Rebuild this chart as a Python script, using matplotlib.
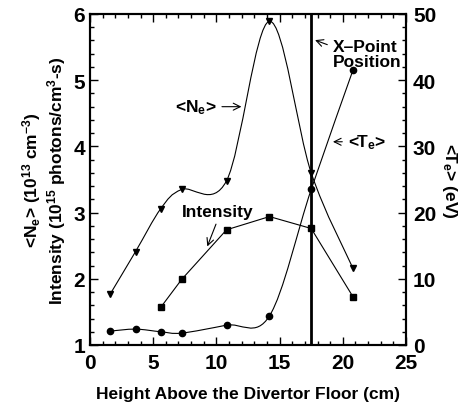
import matplotlib
matplotlib.use("Agg")
import matplotlib.pyplot as plt
import numpy as np
from matplotlib.path import Path
from matplotlib.patches import PathPatch
from matplotlib.ticker import MultipleLocator

plt.rcParams["font.family"] = ["Liberation Sans", "DejaVu Sans"]
plt.rcParams["font.weight"] = "bold"
plt.rcParams["mathtext.default"] = "regular"

# data
height = [1.6, 3.6, 5.6, 7.25, 10.8, 14.2, 17.5, 20.8]
ne = [1.77, 2.41, 3.06, 3.35, 3.48, 5.89, 3.60, 2.16]
int_height = [5.6, 7.25, 10.8, 14.2, 17.5, 20.8]
intensity = [1.57, 1.99, 2.74, 2.94, 2.76, 1.73]
te = [2.1, 2.4, 2.0, 1.8, 3.0, 4.4, 23.5, 41.5]
xpoint = 17.5


def smooth_path(x, y):
    # Catmull-Rom through the points, drawn as bezier segments
    pts = np.column_stack([x, y])
    verts = [pts[0]]
    codes = [Path.MOVETO]
    n = len(pts)
    for i in range(n - 1):
        p0 = pts[i - 1] if i > 0 else pts[i]
        p1, p2 = pts[i], pts[i + 1]
        p3 = pts[i + 2] if i + 2 < n else pts[i + 1]
        c1 = p1 + (p2 - p0) / 6
        c2 = p2 - (p3 - p1) / 6
        verts += [c1, c2, p2]
        codes += [Path.CURVE4] * 3
    return Path(verts, codes)


fig = plt.figure(figsize=(4.75, 4.10), dpi=100)
ax = fig.add_axes([90 / 475, 64 / 410, 316 / 475, 331 / 410])
ax2 = ax.twinx()

ax.set_xlim(0, 25)
ax.set_ylim(1, 6)
ax2.set_ylim(0, 50)

ax.add_patch(PathPatch(smooth_path(height, ne), fill=False, lw=0.8, color="black"))
ax.plot(height, ne, ls="none", marker="v", ms=4, color="black")
ax.plot(int_height, intensity, "-s", lw=0.8, ms=5, color="black")

ax2.add_patch(PathPatch(smooth_path(height, te), fill=False, lw=0.8, color="black"))
ax2.plot(height, te, ls="none", marker="o", ms=4.5, color="black")

ax.axvline(xpoint, color="black", lw=2)

for a in (ax, ax2):
    for s in a.spines.values():
        s.set_linewidth(1.5)
ax.xaxis.set_major_locator(MultipleLocator(5))
ax.xaxis.set_minor_locator(MultipleLocator(1))
ax.yaxis.set_major_locator(MultipleLocator(1))
ax.yaxis.set_minor_locator(MultipleLocator(0.2))
ax2.yaxis.set_major_locator(MultipleLocator(10))
ax2.yaxis.set_minor_locator(MultipleLocator(2))
ax.tick_params(which="both", direction="in", top=True, labelsize=15, width=1)
ax.tick_params(axis="x", pad=6)
ax.tick_params(which="major", length=6)
ax.tick_params(which="minor", length=3)
ax2.tick_params(which="both", direction="in", labelsize=15, width=1, pad=5)
ax2.tick_params(which="major", length=6)
ax2.tick_params(which="minor", length=3)

ax.set_xlabel("Height Above the Divertor Floor (cm)", fontsize=12.5, fontweight="bold", labelpad=10)
ax.set_ylabel("<N$_e$> (10$^{13}$ cm$^{-3}$)\nIntensity (10$^{15}$ photons/cm$^{3}$-s)",
              fontsize=12.5, fontweight="bold", labelpad=4, linespacing=1.1)
ax2.set_ylabel("<T$_e$> (eV)", fontsize=12.5, fontweight="bold", rotation=270, labelpad=16)

arrow = dict(arrowstyle="->", lw=0.8, color="black")
ax.annotate("<N$_e$>", xy=(12.2, 4.6), xytext=(10.0, 4.6), fontsize=12.5, fontweight="bold",
            ha="right", va="center", arrowprops=arrow)
ax.annotate("X\u2013Point\nPosition", xy=(17.6, 5.62), xytext=(19.2, 5.62), fontsize=12.5,
            fontweight="bold", ha="left", va="top", linespacing=1.0,
            arrowprops=dict(arrowstyle="->", lw=0.8, color="black", relpos=(0, 0.75)))
ax.annotate("<T$_e$>", xy=(19.0, 4.07), xytext=(20.4, 4.07), fontsize=12.5, fontweight="bold",
            ha="left", va="center", arrowprops=arrow)
ax.annotate("Intensity", xy=(9.2, 2.45), xytext=(7.3, 3.02), fontsize=12.5, fontweight="bold",
            ha="left", va="center", arrowprops=dict(arrowstyle="->", lw=0.8, color="black",
                                                    relpos=(0.5, 0)))

fig.savefig("out.png", dpi=100)
